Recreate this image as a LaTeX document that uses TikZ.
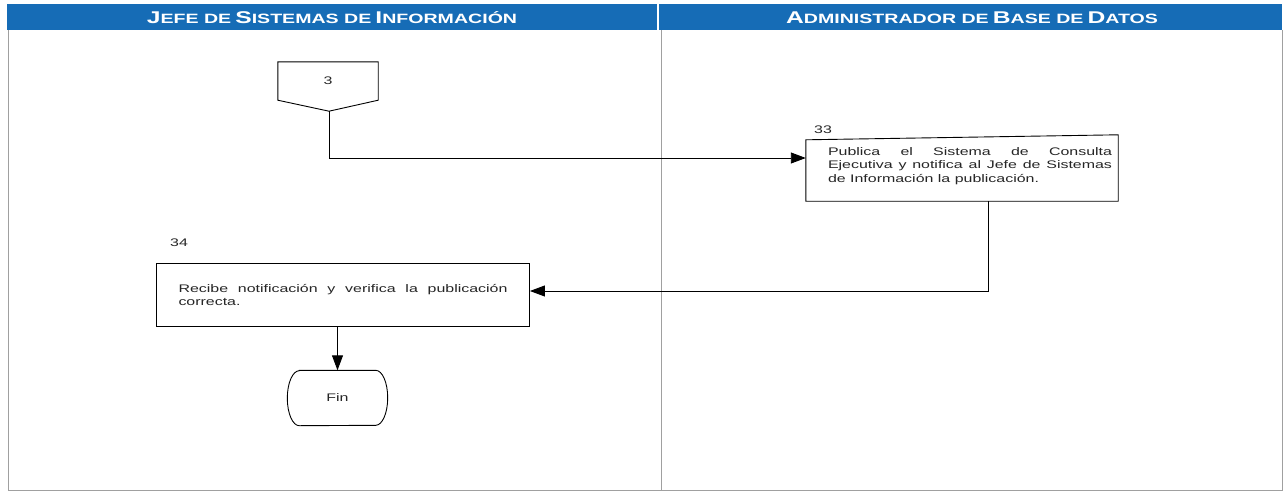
\documentclass[tikz,border=0pt]{standalone}
\usepackage{fontspec}
\setmainfont{Liberation Sans}[FakeStretch=1.45]
\usetikzlibrary{arrows.meta,calc}
\definecolor{hdrblue}{RGB}{22,108,182}
\definecolor{framegray}{RGB}{160,160,160}
\newcommand\hsc[2]{{\fontsize{17}{17}\selectfont #1}{\fontsize{13.5}{17}\selectfont #2}}
\begin{document}
\begin{tikzpicture}[x=1pt,y=-1pt,
  txt/.style={font=\fontsize{11}{13.5}\selectfont, text=black!85},
  hdr/.style={font=\bfseries, text=white, inner sep=0pt},
  flow/.style={draw=black, line width=0.9pt, -{Triangle[length=15pt,width=11pt]}},
  shapeline/.style={draw=black, line width=0.9pt},
  procbox/.style={txt, draw=black, line width=0.9pt, align=justify, inner ysep=0pt}]
\useasboundingbox[fill=white] (0,0) rectangle (1287,493);
% header
\fill[hdrblue] (7,4) rectangle (657,30);
\fill[hdrblue] (659,4) rectangle (1282,30);
\node[hdr] (h1) at (332,17.5) {\hsc{J}{EFE DE} \hsc{S}{ISTEMAS DE} \hsc{I}{NFORMACIÓN}};
\node[hdr] (h2) at (972,17.5) {\hsc{A}{DMINISTRADOR DE} \hsc{B}{ASE DE} \hsc{D}{ATOS}};
% frame
\draw[framegray, line width=1pt] (8,30) -- (8,490) -- (1282,490) -- (1282,30);
\draw[framegray, line width=1pt] (661,30) -- (661,490);
% off-page connector 3
\node[txt, minimum width=100pt, minimum height=38pt, inner sep=0pt] (c3) at (328,81) {3};
\coordinate (c3tip) at ($(c3.south)+(1,11)$);
\draw[shapeline] (c3.north west) -- (c3.north east) -- (c3.south east) -- (c3tip) -- (c3.south west) -- cycle;
% box 33
\node[minimum width=312pt, minimum height=64pt, inner sep=0pt] (b33) at (962,169) {};
\draw[shapeline] (b33.south west) -- ([yshift=-3pt]b33.north west) -- ([yshift=2pt]b33.north east) -- (b33.south east) -- cycle;
\node[txt, text width=284pt, align=justify, inner sep=0pt] (t33) at (970,166) {Publica el Sistema de Consulta\linebreak Ejecutiva y notifica al Jefe de Sistemas\linebreak de Información la publicación.};
\node[txt, anchor=west, inner sep=0pt] (l33) at (814,130) {33};
% box 34
\node[procbox, text width=329pt, inner xsep=22pt, minimum height=63pt] (b34) at (343,295) {Recibe notificación y verifica la publicación\linebreak correcta.};
\node[txt, anchor=west, inner sep=0pt] (l34) at (170,243) {34};
% terminal
\node[txt, minimum width=100pt, minimum height=55pt, inner sep=0pt] (fin) at (337.5,398) {Fin};
\draw[shapeline] ($(fin.north west)+(12,0)$) -- ($(fin.north east)+(-12,0)$)
  arc[start angle=90, end angle=-90, x radius=12pt, y radius=27.5pt]
  -- ($(fin.south west)+(12,0)$)
  arc[start angle=270, end angle=90, x radius=12pt, y radius=27.5pt] -- cycle;
% connectors
\draw[flow] (c3tip) |- ([yshift=11pt]b33.west);
\draw[flow] ([xshift=26pt]b33.south) |- ([yshift=4pt]b34.east);
\draw[flow] (b34.south -| fin.north) -- (fin.north);
\end{tikzpicture}
\end{document}
